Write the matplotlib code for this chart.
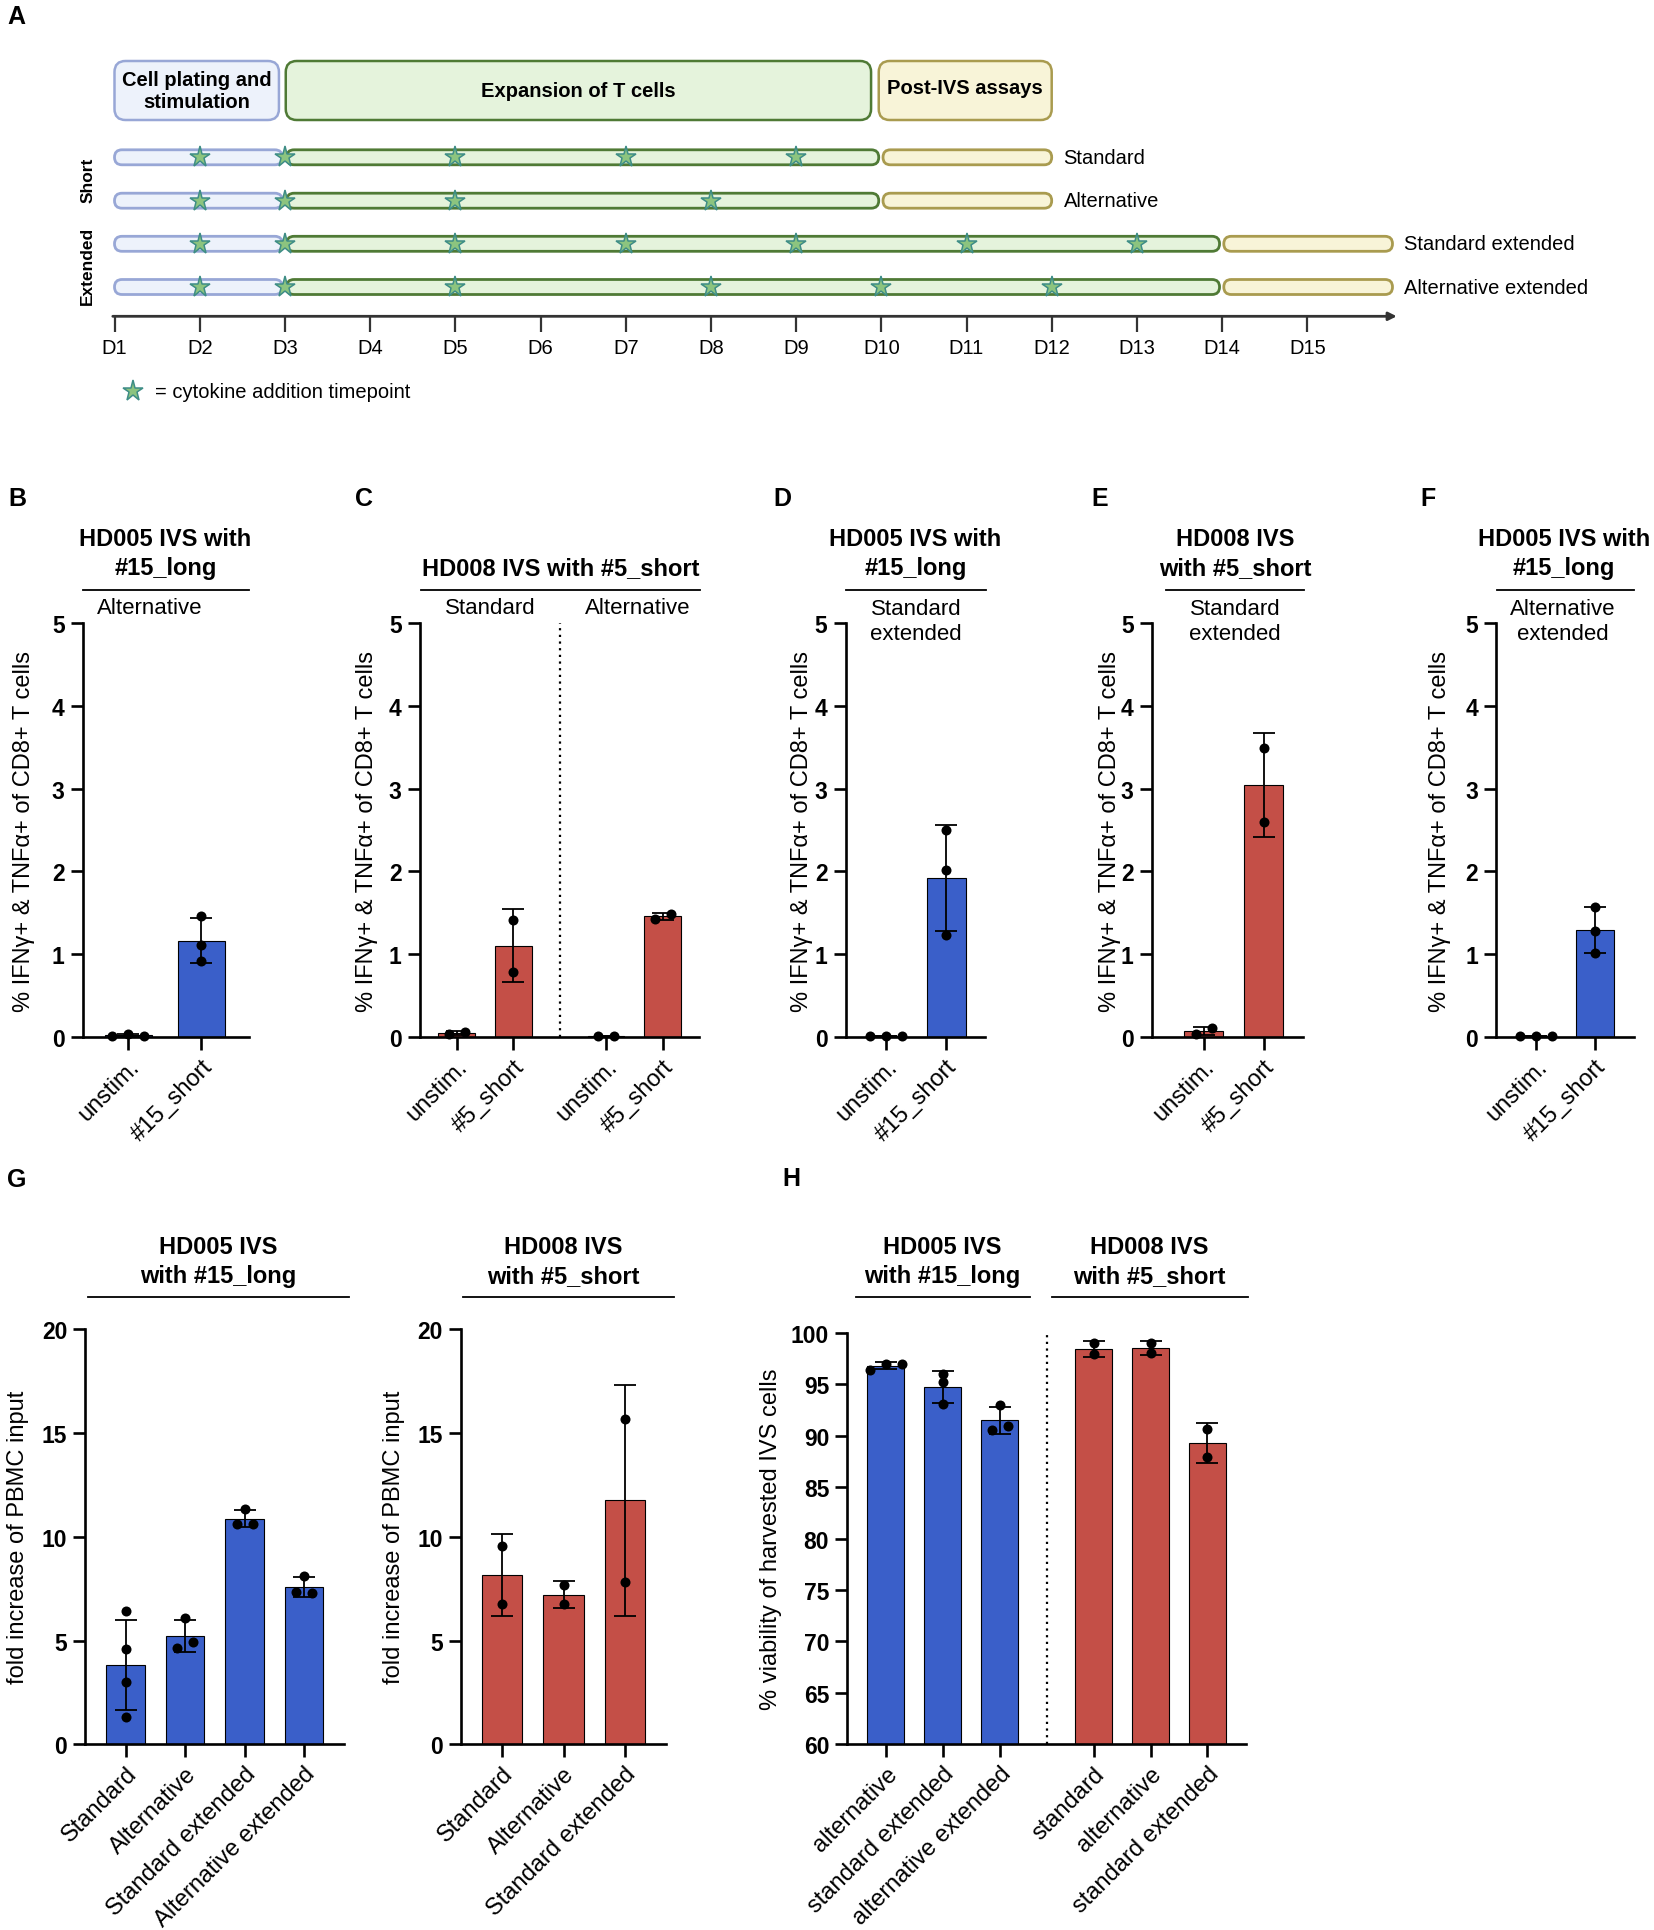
import numpy as np
import matplotlib
matplotlib.use('Agg')
import matplotlib.pyplot as plt
from matplotlib.patches import FancyBboxPatch
from matplotlib.lines import Line2D

W, H = 1654, 1931
plt.rcParams['font.family'] = ['Liberation Sans', 'DejaVu Sans']

BLUE = '#3a5fc9'
RED = '#c44f47'

# ---- panel A: schedule ----
schedule_rows = ['Standard', 'Alternative', 'Standard extended', 'Alternative extended']
expansion_end = [10, 10, 14, 14]
cytokine_days = [[2, 3, 5, 7, 9], [2, 3, 5, 8], [2, 3, 5, 7, 9, 11, 13], [2, 3, 5, 8, 10, 12]]
day_ticks = list(range(1, 16))

# ---- panels B-F: % IFNg+ & TNFa+ of CD8+ T cells ----
b_labels = ['unstim.', '#15_short']
b_vals = [[0.01, 0.035, 0.01], [1.46, 1.11, 0.92]]
c_labels = ['unstim.', '#5_short', 'unstim.', '#5_short']
c_vals = [[0.035, 0.065], [1.415, 0.79], [0.01, 0.012], [1.43, 1.49]]
d_labels = ['unstim.', '#15_short']
d_vals = [[0.01, 0.012, 0.008], [2.50, 2.02, 1.23]]
e_labels = ['unstim.', '#5_short']
e_vals = [[0.035, 0.11], [3.49, 2.60]]
f_labels = ['unstim.', '#15_short']
f_vals = [[0.01, 0.012, 0.008], [1.573, 1.283, 1.018]]

# ---- panel G: fold increase ----
g1_labels = ['Standard', 'Alternative', 'Standard extended', 'Alternative extended']
g1_vals = [[6.41, 4.58, 2.99, 1.30], [6.07, 4.63, 4.93], [11.34, 10.63, 10.63], [8.12, 7.33, 7.30]]
g2_labels = ['Standard', 'Alternative', 'Standard extended']
g2_vals = [[9.56, 6.76], [7.66, 6.76], [15.68, 7.83]]

# ---- panel H: viability ----
h1_labels = ['alternative', 'standard extended', 'alternative extended']
h1_vals = [[96.4, 97.03, 97.03], [95.98, 95.2, 93.05], [93.0, 90.56, 90.95]]
h2_labels = ['standard', 'alternative', 'standard extended']
h2_vals = [[99.04, 97.94], [99.04, 98.04], [90.66, 87.93]]

fig = plt.figure(figsize=(W / 100, H / 100), dpi=100)


def px_axes(l, t, r, b):
    return fig.add_axes([l / W, 1 - b / H, (r - l) / W, (b - t) / H])


def ftext(x, y, s, **kw):
    return fig.text(x / W, 1 - y / H, s, **kw)


def fline(x0, x1, y):
    fig.add_artist(Line2D([x0 / W, x1 / W], [1 - y / H, 1 - y / H], color='black', lw=1.3))


# ================= panel A =================
PX_DAY = 85.2
DAY0 = 1 - 114.5 / PX_DAY
axA = fig.add_axes([0, 1 - 440 / H, 1, 440 / H])
axA.set_xlim(DAY0, DAY0 + W / PX_DAY)
axA.set_ylim(440, 0)
axA.axis('off')

PLATE = ('#edf2fb', '#98a7d6')
EXPAND = ('#e5f3dc', '#4f7a35')
POST = ('#f8f4d8', '#a99b4f')


def pill(x0, x1, yc, h, colors, r, lw=2):
    p = FancyBboxPatch((x0, yc - h / 2), x1 - x0, h,
                       boxstyle=f'round,pad=0,rounding_size={r / PX_DAY}',
                       mutation_aspect=PX_DAY, fc=colors[0], ec=colors[1], lw=lw)
    axA.add_patch(p)


# header boxes
pill(1.0, 2.93, 91.5, 59, PLATE, 11, 1.8)
pill(3.01, 9.88, 91.5, 59, EXPAND, 11, 1.8)
pill(9.97, 12.0, 91.5, 59, POST, 11, 1.8)
axA.text(1.965, 92, 'Cell plating and\nstimulation', ha='center', va='center',
         size=14.5, weight='bold', linespacing=1.2)
axA.text(6.445, 91.5, 'Expansion of T cells', ha='center', va='center', size=14.5, weight='bold')
axA.text(10.985, 89, 'Post-IVS assays', ha='center', va='center', size=14.5, weight='bold')

row_y = [158.3, 201.7, 244.8, 288.0]
for name, end, days, yc in zip(schedule_rows, expansion_end, cytokine_days, row_y):
    pill(1.0, 2.97, yc, 15, PLATE, 7.5)
    pill(3.02, end - 0.03, yc, 15, EXPAND, 7.5)
    pill(end + 0.02, end + 2.0, yc, 15, POST, 7.5)
    axA.plot(days, [yc] * len(days), ls='none', marker='*', ms=15.5,
             mfc='#8cc47f', mec='#3e8d86', mew=1.1, zorder=5)
    axA.text(end + 2.14, yc, name, ha='left', va='center', size=14.5)

axA.text(0.684, (row_y[0] + row_y[1]) / 2, 'Short', rotation=90, ha='center', va='center',
         size=12.5, weight='bold')
axA.text(0.684, (row_y[2] + row_y[3]) / 2, 'Extended', rotation=90, ha='center', va='center',
         size=12.5, weight='bold')

axA.annotate('', xy=(16.05, 317.3), xytext=(0.98, 317.3),
             arrowprops=dict(arrowstyle='-|>', color='#333333', lw=2, mutation_scale=12,
                             shrinkA=0, shrinkB=0))
axA.vlines(day_ticks, 317.3, 333, color='#333333', lw=1.6)
for d in day_ticks:
    axA.text(d, 348, f'D{d}', ha='center', va='center', size=14.5)

axA.plot([1.22], [392], ls='none', marker='*', ms=15.5, mfc='#8cc47f', mec='#3e8d86', mew=1.1)
axA.text(1.475, 393, '= cytokine addition timepoint', ha='left', va='center', size=14.5)

# ================= bar panels =================
def style_axes(ax, ylim, yticks, xlim):
    ax.set_ylim(*ylim)
    ax.set_xlim(*xlim)
    ax.set_yticks(yticks)
    ax.set_yticklabels([str(t) for t in yticks], fontweight='bold', size=16.5)
    for s in ['top', 'right']:
        ax.spines[s].set_visible(False)
    for s in ['left', 'bottom']:
        ax.spines[s].set_linewidth(1.9)
    ax.tick_params(axis='both', width=1.9, length=9, pad=4)
    ax.patch.set_alpha(0)


def swarm_offsets(ax, x, vals, d_px=16.0, thr_px=8.0):
    # spread points that would overlap, like a column scatter
    pts = ax.transData.transform([(x, v) for v in vals])
    ypx = pts[:, 1]
    unit_px = ax.transData.transform([(1, 0)])[0, 0] - ax.transData.transform([(0, 0)])[0, 0]
    order = np.argsort(ypx)
    clusters = []
    for i in order:
        if clusters and ypx[i] - ypx[clusters[-1][-1]] < thr_px:
            clusters[-1].append(i)
        else:
            clusters.append([i])
    off = np.zeros(len(vals))
    for c in clusters:
        c = sorted(c)
        n = len(c)
        for k, i in enumerate(c):
            off[i] = (k - (n - 1) / 2) * d_px / unit_px
    return off


def bar_panel(ax, pos, groups, labels, color, ylim, yticks, xlim):
    style_axes(ax, ylim, yticks, xlim)
    for x, vals in zip(pos, groups):
        vals = np.asarray(vals, dtype=float)
        m = vals.mean()
        sd = vals.std(ddof=1)
        ax.bar(x, m, width=0.65, color=color, edgecolor='black', lw=0.8, zorder=2)
        ax.errorbar(x, m, yerr=sd, fmt='none', ecolor='black', elinewidth=1.3,
                    capsize=8, capthick=1.3, zorder=3)
        off = swarm_offsets(ax, x, vals)
        ax.scatter(x + off, vals, s=52, color='black', zorder=4, clip_on=False, lw=0)
    ax.set_xticks(pos)
    ax.set_xticklabels(labels, rotation=45, ha='right', rotation_mode='anchor', size=17)


YL = '% IFNγ+ & TNFα+ of CD8+ T cells'
T_TOP, T_BOT = 624, 1038

axB = px_axes(82.7, T_TOP, 249.3, T_BOT)
bar_panel(axB, [0, 1], b_vals, b_labels, BLUE, (0, 5), range(6), (-0.627, 1.66))

c_pos = [0, 1, 2.63, 3.63]
axC = px_axes(419.7, T_TOP, 698.6, T_BOT)
bar_panel(axC, c_pos, c_vals, c_labels, RED, (0, 5), range(6), (-0.65, 4.26))
axC.axvline((c_pos[1] + c_pos[2]) / 2, color='black', ls=(0, (1, 2)), lw=1.6)

axD = px_axes(845.5, T_TOP, 985.0, T_BOT)
bar_panel(axD, [0, 1], d_vals, d_labels, BLUE, (0, 5), range(6), (-0.68, 1.65))

axE = px_axes(1151.7, T_TOP, 1303.0, T_BOT)
bar_panel(axE, [0, 1], e_vals, e_labels, RED, (0, 5), range(6), (-0.87, 1.66))

axF = px_axes(1496.0, T_TOP, 1633.8, T_BOT)
bar_panel(axF, [0, 1], f_vals, f_labels, BLUE, (0, 5), range(6), (-0.69, 1.67))

for x in [24, 366.6, 802.4, 1109.7, 1440]:
    ftext(x, 831, YL, rotation=90, ha='center', va='center', size=17)

# titles B-F
TB = dict(ha='center', va='center', size=17, weight='bold', linespacing=1.33)
SB = dict(ha='center', va='center', size=16, linespacing=1.25)
ftext(165.4, 554, 'HD005 IVS with\n#15_long', **TB)
fline(82.7, 249.3, 591)
ftext(150, 609, 'Alternative', **SB)

ftext(560.7, 569, 'HD008 IVS with #5_short', **TB)
fline(420.9, 699.9, 591)
ftext(490, 609, 'Standard', **SB)
ftext(638, 609, 'Alternative', **SB)

ftext(915.6, 554, 'HD005 IVS with\n#15_long', **TB)
fline(845.5, 986.2, 591)
ftext(915.9, 622, 'Standard\nextended', **SB)

ftext(1235, 554, 'HD008 IVS\nwith #5_short', **TB)
fline(1166.4, 1304, 591)
ftext(1235, 622, 'Standard\nextended', **SB)

ftext(1563.9, 554, 'HD005 IVS with\n#15_long', **TB)
fline(1496.6, 1634.2, 591)
ftext(1562.6, 622, 'Alternative\nextended', **SB)

# ================= panel G =================
G_TOP, G_BOT = 1330.2, 1745.3
axG1 = px_axes(85.2, G_TOP, 344.4, G_BOT)
bar_panel(axG1, [0, 1, 2, 3], g1_vals, g1_labels, BLUE, (0, 20), range(0, 21, 5), (-0.68, 3.68))
axG2 = px_axes(461.0, G_TOP, 665.7, G_BOT)
bar_panel(axG2, [0, 1, 2], g2_vals, g2_labels, RED, (0, 20), range(0, 21, 5), (-0.665, 2.66))
for x in [18, 393.6]:
    ftext(x, 1537.7, 'fold increase of PBMC input', rotation=90, ha='center', va='center', size=17)

ftext(218, 1262, 'HD005 IVS\nwith #15_long', **TB)
fline(87.6, 349.3, 1298)
ftext(563.6, 1262, 'HD008 IVS\nwith #5_short', **TB)
fline(462.9, 674, 1298)

# ================= panel H =================
h_pos = [0, 1, 2, 3.657, 4.657, 5.657]
axH = px_axes(847.2, 1334.0, 1245.7, G_BOT)
bar_panel(axH, h_pos, h1_vals + h2_vals, h1_labels + h2_labels,
          BLUE, (60, 100), range(60, 101, 5), (-0.68, 6.33))
for patch, c in zip(axH.patches, [BLUE] * 3 + [RED] * 3):
    patch.set_facecolor(c)
axH.axvline((h_pos[2] + h_pos[3]) / 2, color='black', ls=(0, (1, 2)), lw=1.6)
ftext(770.6, 1539, '% viability of harvested IVS cells', rotation=90, ha='center', va='center', size=17)

ftext(942.3, 1262, 'HD005 IVS\nwith #15_long', **TB)
fline(855.9, 1030.4, 1298)
ftext(1149.1, 1262, 'HD008 IVS\nwith #5_short', **TB)
fline(1051.6, 1247.5, 1298)

# panel letters
for lab, x, y in [('A', 16, 17), ('B', 17, 499), ('C', 364, 499), ('D', 782, 499),
                  ('E', 1100, 499), ('F', 1428, 499), ('G', 17, 1180), ('H', 791, 1179)]:
    ftext(x, y, lab, ha='center', va='center', size=18, weight='bold')

fig.savefig('out.png', dpi=100)
